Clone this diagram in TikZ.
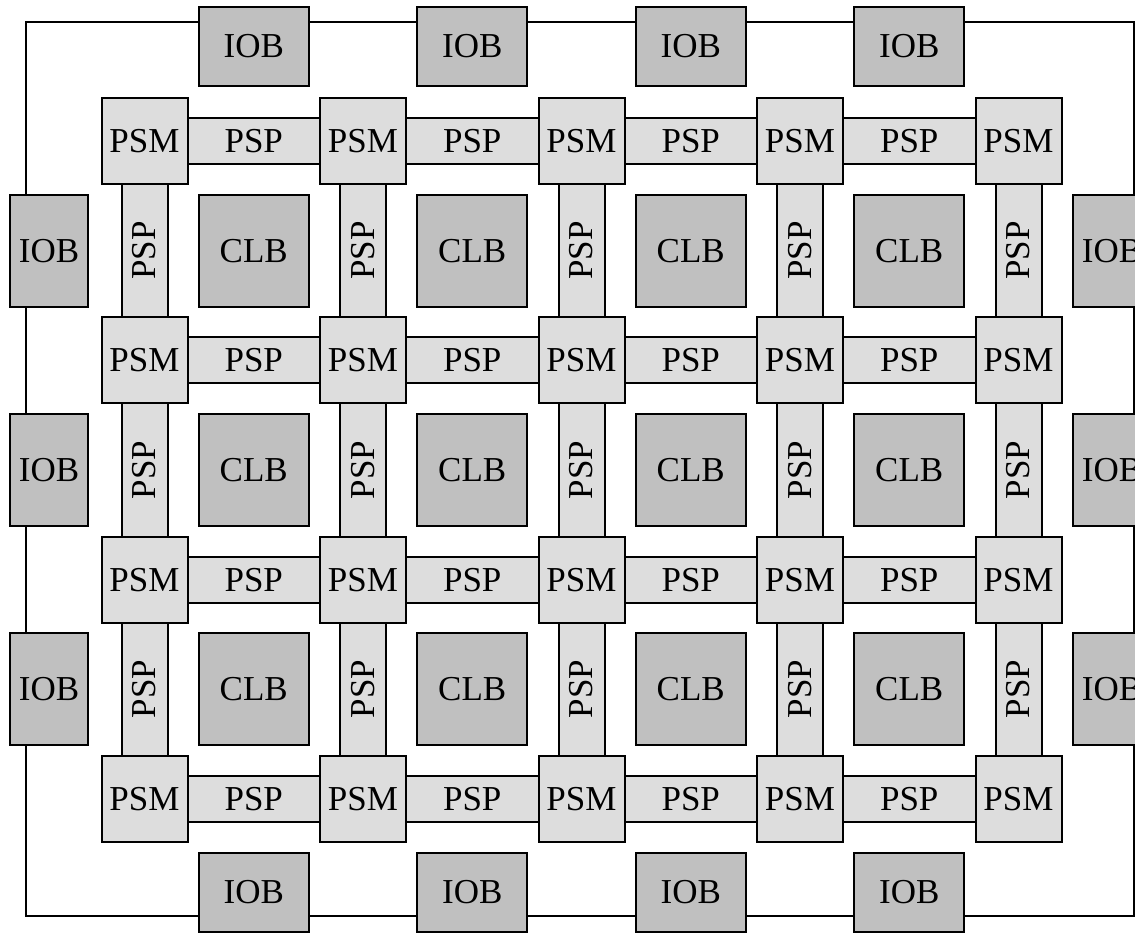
\documentclass[tikz,border=0pt]{standalone}
\usepackage{fontspec}
\setmainfont{Liberation Serif}
\definecolor{blkgray}{RGB}{192,192,192}
\definecolor{routegray}{RGB}{221,221,221}
\begin{document}
\begin{tikzpicture}[x=1pt,y=-1pt,
  box/.style={draw=black, line width=2pt, inner sep=0pt, font=\fontsize{35}{40}\selectfont},
  psm/.style={box, fill=routegray, minimum width=86pt, minimum height=86pt},
  hpsp/.style={box, fill=routegray, minimum width=132.5pt, minimum height=46pt},
  vpsp/.style={box, fill=routegray, rotate=90, minimum width=133.3pt, minimum height=46pt},
  clb/.style={box, fill=blkgray, minimum width=110pt, minimum height=112pt},
  iobh/.style={box, fill=blkgray, minimum width=110pt, minimum height=79pt},
  iobv/.style={box, fill=blkgray, minimum width=78pt, minimum height=112pt},
  frame/.style={draw=black, line width=2pt}
]
\useasboundingbox (0,0) rectangle (1135,933);
% outer frame
\coordinate (tl) at (26,22);
\coordinate (br) at (1134,916);
\draw[frame] (tl) rectangle (br);
% horizontal PSPs
\foreach \i in {0,...,3} \foreach \j in {0,...,3}
  \node[hpsp] (hpsp-\i-\j) at ({144.5+218.5*\i+109.25},{141+219.3*\j}) {PSP};
% vertical PSPs
\foreach \i in {0,...,4} \foreach \j in {0,...,2}
  \node[vpsp] (vpsp-\i-\j) at ({144.5+218.5*\i},{141+219.3*\j+109.65}) {PSP};
% PSMs
\foreach \i in {0,...,4} \foreach \j in {0,...,3}
  \node[psm] (psm-\i-\j) at ({144.5+218.5*\i},{141+219.3*\j}) {PSM};
% CLBs
\foreach \i in {0,...,3} \foreach \j in {0,...,2}
  \node[clb] (clb-\i-\j) at ({144.5+218.5*\i+109.25},{141+219.3*\j+109.65}) {CLB};
% IOBs top and bottom
\foreach \i in {0,...,3} {
  \node[iobh] (iobt-\i) at ({144.5+218.5*\i+109.25},46.5) {IOB};
  \node[iobh] (iobb-\i) at ({144.5+218.5*\i+109.25},892.5) {IOB};
}
% IOBs left and right
\foreach \j in {0,...,2} {
  \node[iobv] (iobl-\j) at (49,{141+219.3*\j+109.65}) {IOB};
  \node[iobv] (iobr-\j) at (1112,{141+219.3*\j+109.65}) {IOB};
}
\end{tikzpicture}
\end{document}
